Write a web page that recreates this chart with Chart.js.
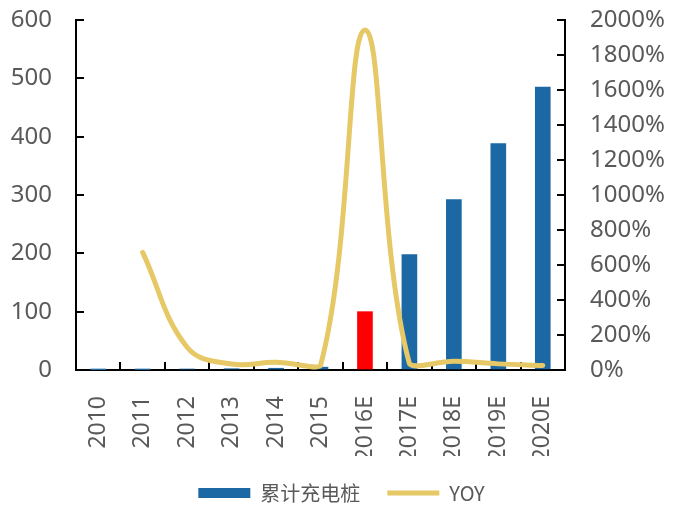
<!DOCTYPE html>
<html>
<head>
<meta charset="utf-8">
<script src="https://cdn.jsdelivr.net/npm/chart.js@4/dist/chart.umd.min.js"></script>
<style>
  html, body { margin: 0; padding: 0; background: #fff; }
  #wrap { width: 683px; height: 509px; position: relative; }
</style>
</head>
<body>
<div id="wrap"><canvas id="c" width="683" height="509"></canvas></div>
<script>
// Years on the category axis
const years = ['2010', '2011', '2012', '2013', '2014', '2015', '2016E', '2017E', '2018E', '2019E', '2020E'];
// Cumulative charging piles (left axis)
const piles = [0.1, 0.7, 1.6, 2.2, 3.0, 4.9, 100, 198, 292, 388, 485];
// Year-over-year growth, percent (right axis)
const yoy = [null, 672, 130, 34, 44, 25, 1943, 36, 50, 35, 26];
// Left / right axis ticks
const leftTicks = [0, 100, 200, 300, 400, 500, 600];
const rightTicks = [0, 200, 400, 600, 800, 1000, 1200, 1400, 1600, 1800, 2000];

const BLUE = '#1B68A4';
const RED = '#FF0000';
const GOLD = '#E6C866';
const TXT = '#595959';
const FONT = '"Noto Sans", "Open Sans", sans-serif';

const barColors = years.map(y => (y === '2016E' ? RED : BLUE));

// Axis lines in black with short tick marks pointing into the plot
const axisCommon = {
  border: { display: true, color: '#000', width: 2 },
  grid: { drawOnChartArea: false, drawTicks: true, tickLength: -8, color: '#000', lineWidth: 2 },
};

new Chart(document.getElementById('c'), {
  data: {
    labels: years,
    datasets: [
      {
        type: 'bar',
        label: '累计充电桩',
        data: piles,
        backgroundColor: barColors,
        borderWidth: 0,
        barThickness: 15,
        yAxisID: 'y',
        order: 2,
      },
      {
        type: 'line',
        label: 'YOY',
        data: yoy,
        borderColor: GOLD,
        backgroundColor: GOLD,
        borderWidth: 5,
        borderCapStyle: 'round',
        pointRadius: 0,
        tension: 0.4,
        yAxisID: 'y1',
        order: 1,
      },
    ],
  },
  options: {
    responsive: false,
    animation: false,
    layout: { padding: { left: 0, right: 0, top: 20, bottom: -4 } },
    plugins: {
      tooltip: { enabled: false },
      legend: {
        position: 'bottom',
        labels: {
          usePointStyle: true,
          pointStyleWidth: 52,
          boxHeight: 10,
          padding: 27,
          color: TXT,
          font: { family: '"Noto Sans CJK SC", ' + FONT, size: 20 },
          sort: (a, b) => a.datasetIndex - b.datasetIndex,
          generateLabels: (chart) => {
            const items = Chart.defaults.plugins.legend.labels.generateLabels(chart);
            return items.map(it => {
              if (it.datasetIndex === 0) {
                return Object.assign(it, { pointStyle: 'rect', fillStyle: BLUE, strokeStyle: BLUE, lineWidth: 0 });
              }
              return Object.assign(it, { pointStyle: 'line', strokeStyle: GOLD, lineWidth: 5 });
            });
          },
        },
      },
    },
    scales: {
      x: {
        ...axisCommon,
        offset: true,
        grid: { ...axisCommon.grid, offset: true },
        afterFit: (s) => { s.paddingLeft = 0; s.paddingRight = 0; s.height = 86; },
        ticks: {
          color: TXT,
          font: { family: FONT, size: 23 },
          minRotation: 90,
          maxRotation: 90,
          padding: 34,
          autoSkip: false,
        },
      },
      y: {
        ...axisCommon,
        position: 'left',
        min: 0,
        max: 600,
        afterBuildTicks: (s) => { s.ticks = leftTicks.map(v => ({ value: v })); },
        afterFit: (s) => { s.paddingTop = 0; s.paddingBottom = 0; s.width = 76; },
        ticks: {
          color: TXT,
          font: { family: FONT, size: 24 },
          padding: 32,
          autoSkip: false,
        },
      },
      y1: {
        ...axisCommon,
        position: 'right',
        min: 0,
        max: 2000,
        afterBuildTicks: (s) => { s.ticks = rightTicks.map(v => ({ value: v })); },
        afterFit: (s) => { s.paddingTop = 0; s.paddingBottom = 0; s.width = 118; },
        ticks: {
          color: TXT,
          font: { family: FONT, size: 24 },
          padding: 33,
          autoSkip: false,
          callback: (v) => v + '%',
        },
      },
    },
  },
});
</script>
</body>
</html>
